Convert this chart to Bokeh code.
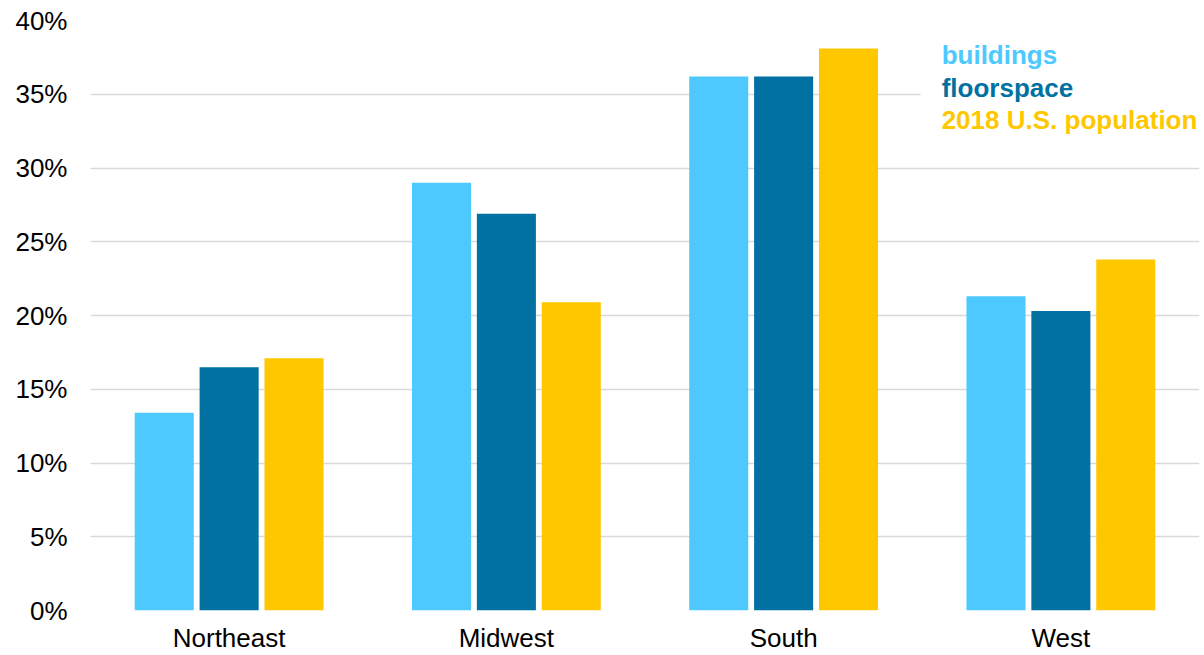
from bokeh.plotting import figure
from bokeh.models import FactorRange, Range1d, PrintfTickFormatter, Label, BoxAnnotation, ColumnDataSource, FixedTicker
from bokeh.transform import dodge
from bokeh.embed import file_html
from bokeh.resources import INLINE

# ---- data ----
regions = ["Northeast", "Midwest", "South", "West"]
buildings = [13.4, 29.0, 36.2, 21.3]
floorspace = [16.5, 26.9, 36.2, 20.3]
population = [17.1, 20.9, 38.1, 23.8]
series_names = ["buildings", "floorspace", "2018 U.S. population"]
series_keys = ["buildings", "floorspace", "population"]
colors = ["#4DC9FF", "#0071A1", "#FFC700"]
y_ticks = [0, 5, 10, 15, 20, 25, 30, 35, 40]

source = ColumnDataSource(dict(region=regions, buildings=buildings,
                               floorspace=floorspace, population=population))

FONT = "Liberation Sans"

p = figure(x_range=FactorRange(*regions), y_range=Range1d(0, 40),
           width=1204, height=655, output_backend="svg", toolbar_location=None,
           min_border_left=90, min_border_right=5, min_border_top=20, min_border_bottom=45)
p.outline_line_color = None
p.background_fill_color = "white"
p.border_fill_color = "white"

offsets = [-0.234, 0.0, 0.234]
for key, off, col in zip(series_keys, offsets, colors):
    p.vbar(x=dodge("region", off, range=p.x_range), top=key, width=0.213,
           source=source, fill_color=col, line_color=None)

# grid
p.xgrid.grid_line_color = None
p.ygrid.grid_line_color = "#D9D9D9"
p.ygrid.grid_line_width = 1.3

# y axis
p.yaxis.ticker = FixedTicker(ticks=y_ticks)
p.yaxis.formatter = PrintfTickFormatter(format="%d%%")
p.yaxis.axis_line_color = None
p.yaxis.major_tick_line_color = None
p.yaxis.minor_tick_line_color = None
p.yaxis.major_tick_out = 0
p.yaxis.major_tick_in = 0
p.yaxis.major_label_standoff = 23
p.yaxis.major_label_text_font = FONT
p.yaxis.major_label_text_font_size = "26px"
p.yaxis.major_label_text_color = "#000000"

# x axis
p.xaxis.axis_line_color = None
p.xaxis.major_tick_line_color = None
p.xaxis.major_tick_out = 0
p.xaxis.major_tick_in = 0
p.xaxis.major_label_standoff = 12
p.xaxis.major_label_text_font = FONT
p.xaxis.major_label_text_font_size = "26px"
p.xaxis.major_label_text_color = "#000000"

# legend (colored text on white box)
p.add_layout(BoxAnnotation(left=2.994, right=4.0, top=39.0, bottom=31.9,
                           fill_color="white", fill_alpha=1.0, line_color=None))
legend_y = [37.63, 35.41, 33.27]
for name, col, yy in zip(series_names, colors, legend_y):
    p.add_layout(Label(x=3.07, y=yy, text=name, text_color=col,
                       text_font=FONT, text_font_size="26px", text_font_style="bold",
                       text_baseline="middle", text_align="left"))

open("out.html", "w").write(file_html(p, INLINE))
